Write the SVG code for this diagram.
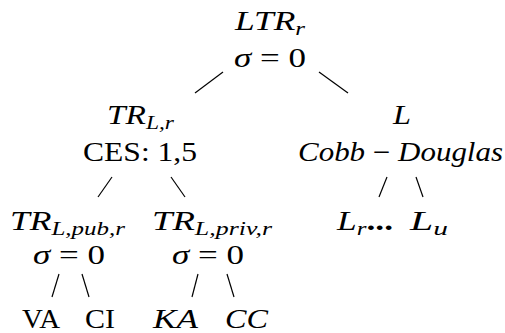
<svg xmlns="http://www.w3.org/2000/svg" width="505" height="333" viewBox="0 0 505 333">
<style>
text{font-family:"Liberation Serif","Times New Roman",serif;font-size:27px;fill:#000}
.m{font-style:italic}
.up{font-style:normal}
.sub{font-size:19px;font-style:italic}
line{stroke:#000;stroke-width:1.2}
</style>
<rect width="505" height="333" fill="#fff"/>
<g id="connectors">
<line x1="223" y1="72" x2="195" y2="93"/>
<line x1="319" y1="72" x2="348" y2="93"/>
<line x1="112" y1="177" x2="98" y2="197"/>
<line x1="171" y1="177" x2="185" y2="197"/>
<line x1="387" y1="177" x2="379" y2="197"/>
<line x1="416" y1="177" x2="423" y2="197"/>
<line x1="59" y1="274" x2="52" y2="297"/>
<line x1="82" y1="274" x2="89" y2="297"/>
<line x1="198" y1="274" x2="192" y2="297"/>
<line x1="227" y1="274" x2="234" y2="297"/>
</g>
<g id="LTR">
<text x="235" y="30" class="m" textLength="70" lengthAdjust="spacingAndGlyphs">LTR<tspan class="sub" dy="5">r</tspan></text>
<text x="234" y="67" textLength="72" lengthAdjust="spacingAndGlyphs"><tspan class="m">σ</tspan> = 0</text>
</g>
<g id="TRLr">
<text x="107" y="124" class="m" textLength="67" lengthAdjust="spacingAndGlyphs">TR<tspan class="sub" dy="5">L,r</tspan></text>
<text x="83" y="161" textLength="114" lengthAdjust="spacingAndGlyphs">CES: 1,5</text>
</g>
<g id="L">
<text x="393" y="124" class="m" textLength="18" lengthAdjust="spacingAndGlyphs">L</text>
<text x="298" y="161" class="m" textLength="205" lengthAdjust="spacingAndGlyphs">Cobb <tspan class="up">−</tspan> Douglas</text>
</g>
<g id="TRpub">
<text x="10" y="230" class="m" textLength="115" lengthAdjust="spacingAndGlyphs">TR<tspan class="sub" dy="5">L,pub,r</tspan></text>
<text x="33" y="264" textLength="72" lengthAdjust="spacingAndGlyphs"><tspan class="m">σ</tspan> = 0</text>
</g>
<g id="TRpriv">
<text x="152" y="230" class="m" textLength="120" lengthAdjust="spacingAndGlyphs">TR<tspan class="sub" dy="5">L,priv,r</tspan></text>
<text x="172" y="264" textLength="72" lengthAdjust="spacingAndGlyphs"><tspan class="m">σ</tspan> = 0</text>
</g>
<g id="Lr">
<text x="337" y="230" class="m" textLength="56" lengthAdjust="spacingAndGlyphs">L<tspan class="sub" dy="5">r</tspan><tspan class="up" dy="-5" font-weight="bold">...</tspan></text>
</g>
<g id="Lu">
<text x="410" y="230" class="m" textLength="38" lengthAdjust="spacingAndGlyphs">L<tspan class="sub" dy="5">u</tspan></text>
</g>
<g id="VA"><text x="22" y="328" textLength="38" lengthAdjust="spacingAndGlyphs">VA</text></g>
<g id="CI"><text x="85" y="328" textLength="30" lengthAdjust="spacingAndGlyphs">CI</text></g>
<g id="KA"><text x="153" y="328" class="m" textLength="45" lengthAdjust="spacingAndGlyphs">KA</text></g>
<g id="CC"><text x="225" y="328" class="m" textLength="43" lengthAdjust="spacingAndGlyphs">CC</text></g>
</svg>
